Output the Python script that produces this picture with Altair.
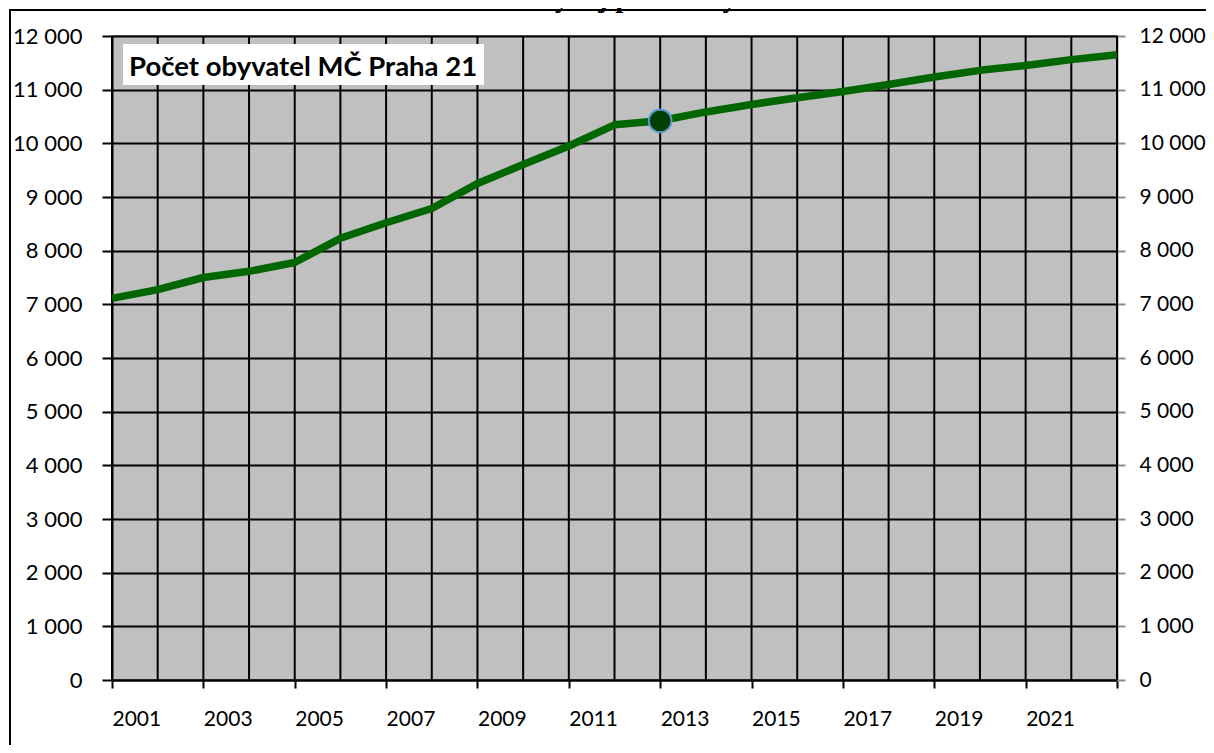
import altair as alt
import pandas as pd

years = list(range(2001, 2024))
population = [7110, 7275, 7500, 7615, 7780, 8230, 8520, 8785, 9250, 9605, 9950,
              10345, 10420, 10585, 10725, 10850, 10965, 11095, 11235, 11360,
              11450, 11560, 11650]
highlight_year = 2013
x_ticks = list(range(2001, 2024, 2))
y_ticks = list(range(0, 12001, 1000))
title_text = "Obr. 3-1: Vývoj počtu obyvatel"
box_text = "Počet obyvatel MČ Praha 21"

df = pd.DataFrame({"rok": years, "obyvatel": population})
one = pd.DataFrame({"a": [0]})

xscale = alt.Scale(domain=[2001, 2023], nice=False, zero=False)
yscale = alt.Scale(domain=[0, 12000], nice=False, zero=True)

x_axis = alt.Axis(
    values=x_ticks, title=None, grid=False,
    domainColor="#000000", domainWidth=2,
    tickColor="#000000", tickWidth=2, tickSize=8,
    labelExpr="datum.value < 2023 ? '' + datum.value : ''",
    labelAlign="left", labelPadding=20, labelFlush=False, labelOverlap=False,
    labelFontSize=21, labelFont="Lato", labelColor="#000000", labelBound=False,
)

y_left = alt.Axis(
    values=y_ticks, title=None, orient="left", grid=True, gridColor="#000000",
    gridWidth=2, gridOpacity=1, domainColor="#000000", domainWidth=2,
    tickColor="#000000", tickWidth=2, tickSize=10, labelPadding=20,
    labelExpr="replace(format(datum.value, ','), ',', ' ')",
    labelFontSize=22, labelFont="Lato", labelColor="#000000", labelAlign="right",
)

y_right = alt.Axis(
    values=y_ticks, title=None, orient="right", grid=False,
    domainColor="#8c8c8c", domainWidth=2, tickColor="#8c8c8c", tickWidth=2,
    tickSize=8, labelPadding=14,
    labelExpr="replace(format(datum.value, ','), ',', ' ')",
    labelFontSize=21, labelFont="Lato", labelColor="#000000", labelAlign="left",
)

base = alt.Chart(df)

vgrid = base.mark_rule(color="#000000", strokeWidth=2).encode(
    x=alt.X("rok:Q", scale=xscale, axis=x_axis),
)

line = base.mark_line(color="#006600", strokeWidth=7.5, strokeJoin="round").encode(
    x=alt.X("rok:Q", scale=xscale, axis=x_axis),
    y=alt.Y("obyvatel:Q", scale=yscale, axis=y_left),
)

marker = base.transform_filter(alt.datum.rok == highlight_year).mark_circle(
    size=520, fill="#003f00", stroke="#5b9bd5", strokeWidth=2, opacity=1
).encode(
    x=alt.X("rok:Q", scale=xscale, axis=x_axis),
    y=alt.Y("obyvatel:Q", scale=yscale, axis=y_right),
)

box = alt.Chart(one).mark_rect(fill="#ffffff", stroke=None).encode(
    x=alt.value(11), x2=alt.value(372), y=alt.value(8), y2=alt.value(49)
)
box_label = alt.Chart(one).mark_text(
    text=box_text, font="Lato", fontSize=27.5, fontWeight="bold", color="#000000",
    align="left", baseline="alphabetic"
).encode(x=alt.value(17), y=alt.value(40))

frame = alt.Chart(one).mark_rect(fill="transparent", stroke="#000000", strokeWidth=2).encode(
    x=alt.value(-102), x2=alt.value(1300), y=alt.value(-26), y2=alt.value(900)
)
title = alt.Chart(one).mark_text(
    text=title_text, font="Liberation Serif", fontSize=29, fontWeight="bold",
    color="#000000", align="center", baseline="alphabetic"
).encode(x=alt.value(494), y=alt.value(-29))

chart = alt.layer(frame, title, vgrid, line, marker, box, box_label).resolve_axis(
    y="independent"
).properties(
    width=1005, height=644,
    autosize=alt.AutoSizeParams(type="none"),
    padding={"left": 104, "top": 28, "right": 89, "bottom": 65},
    background="#ffffff",
).configure_view(
    fill="#c0c0c0", stroke="#8c8c8c", strokeWidth=2
)

chart.save("out.html", embed_options={"renderer": "svg", "actions": False})
